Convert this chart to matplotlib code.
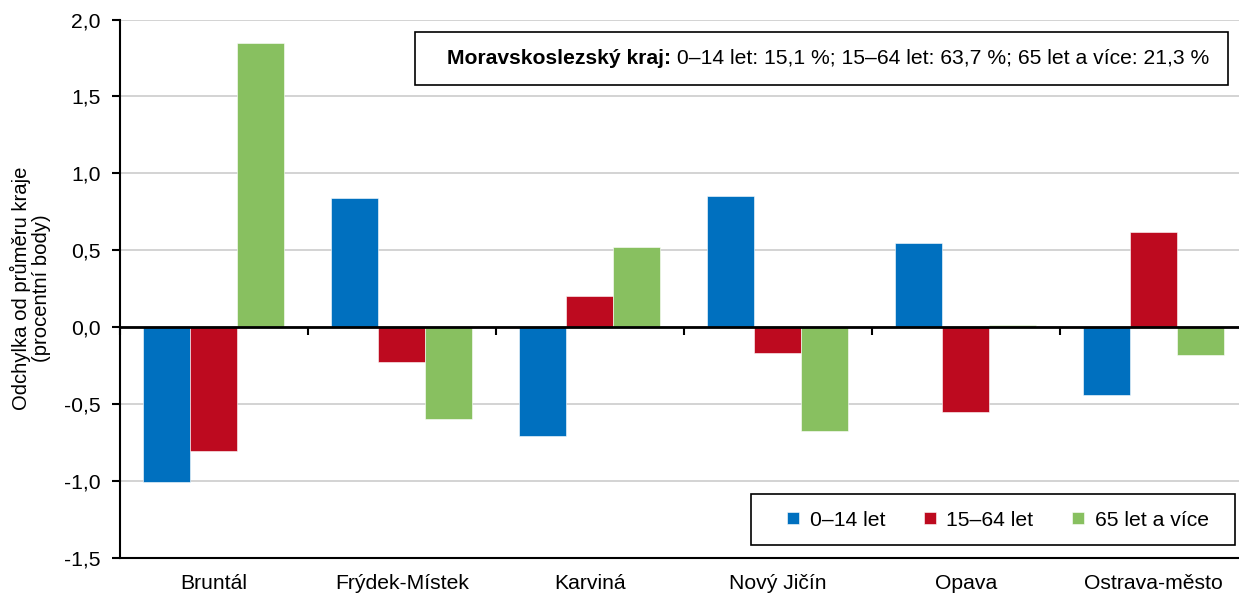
import numpy as np
import matplotlib
matplotlib.use('Agg')
import matplotlib.pyplot as plt
from matplotlib.patches import Rectangle
from matplotlib.ticker import FuncFormatter, MultipleLocator

plt.rcParams['font.family'] = ['Liberation Sans', 'DejaVu Sans']

# data
districts = ['Bruntál', 'Frýdek-Místek', 'Karviná', 'Nový Jičín', 'Opava', 'Ostrava-město']
series_names = ['0–14 let', '15–64 let', '65 let a více']
age_0_14 = [-1.01, 0.84, -0.71, 0.85, 0.545, -0.44]
age_15_64 = [-0.81, -0.23, 0.20, -0.17, -0.555, 0.62]
age_65_plus = [1.85, -0.60, 0.52, -0.68, 0.01, -0.18]
colors = ['#0070BF', '#BD0A1F', '#88C060']
region_note_bold = 'Moravskoslezský kraj:'
region_note = ' 0–14 let: 15,1 %; 15–64 let: 63,7 %; 65 let a více: 21,3 %'

W, H = 1239, 594
fig = plt.figure(figsize=(W / 100, H / 100), dpi=100)
ax = fig.add_axes([120 / W, 1 - 557.5 / H, 1127.5 / W, 538 / H])

fs = 15.2
x = np.arange(len(districts))
width = 0.25
for i, (vals, name) in enumerate(zip([age_0_14, age_15_64, age_65_plus], series_names)):
    ax.bar(x + (i - 1) * width, vals, width, color=colors[i], label=name,
           edgecolor='white', linewidth=0.4, zorder=2)

ax.set_xlim(-0.5, len(districts) - 0.5)
ax.set_ylim(-1.5, 2.0)
ax.yaxis.set_major_locator(MultipleLocator(0.5))
ax.yaxis.set_major_formatter(FuncFormatter(lambda v, p: f'{v:.1f}'.replace('.', ',')))
ax.grid(axis='y', color='#d0d0d0', linewidth=1.3, zorder=0)
ax.set_axisbelow(True)

# zero line drawn with the top spine, boundary ticks hanging below it
ax.spines['top'].set_position(('data', 0))
ax.spines['top'].set_linewidth(2)
ax.spines['right'].set_visible(False)
ax.spines['left'].set_linewidth(1.5)
ax.spines['bottom'].set_linewidth(1.5)
ax.set_xticks(x)
ax.set_xticklabels(districts, fontsize=fs)
ax.set_xticks(np.arange(len(districts) + 1) - 0.5, minor=True)
ax.tick_params(axis='x', which='major', length=0, pad=12, top=False)
ax.tick_params(axis='x', which='minor', top=True, bottom=False, direction='in',
               length=6, width=1.5)
ax.tick_params(axis='y', which='major', length=6, width=1.5, labelsize=fs, pad=8)
ax.set_ylabel('Odchylka od průměru kraje\n(procentní body)', fontsize=14.6, labelpad=9,
              linespacing=1.1)

# legend: entries without frame, frame drawn separately
leg = fig.legend(loc='center', bbox_to_anchor=(998 / W, 1 - 520 / H), ncol=3,
                 fontsize=fs, frameon=False,
                 handlelength=0.55, handleheight=0.55, handletextpad=0.5,
                 columnspacing=1.85, borderpad=0, borderaxespad=0)
fig.patches.append(Rectangle((751 / W, 1 - 545 / H), 484 / W, 51 / H,
                             transform=fig.transFigure, fill=True, facecolor='white',
                             edgecolor='black', linewidth=1.2, zorder=4))
leg.set_zorder(6)

# info box at the top
fig.patches.append(Rectangle((415 / W, 1 - 85 / H), 813 / W, 53 / H,
                             transform=fig.transFigure, fill=True, facecolor='white',
                             edgecolor='black', linewidth=1.2, zorder=5))
ty = 1 - 64 / H
t1 = fig.text(447 / W, ty, region_note_bold, fontsize=fs, weight='bold', va='baseline', zorder=6)
fig.canvas.draw()
bb = t1.get_window_extent(renderer=fig.canvas.get_renderer())
fig.text(bb.x1 / W, ty, region_note, fontsize=fs, va='baseline', zorder=6)

fig.savefig('out.png', dpi=100)
